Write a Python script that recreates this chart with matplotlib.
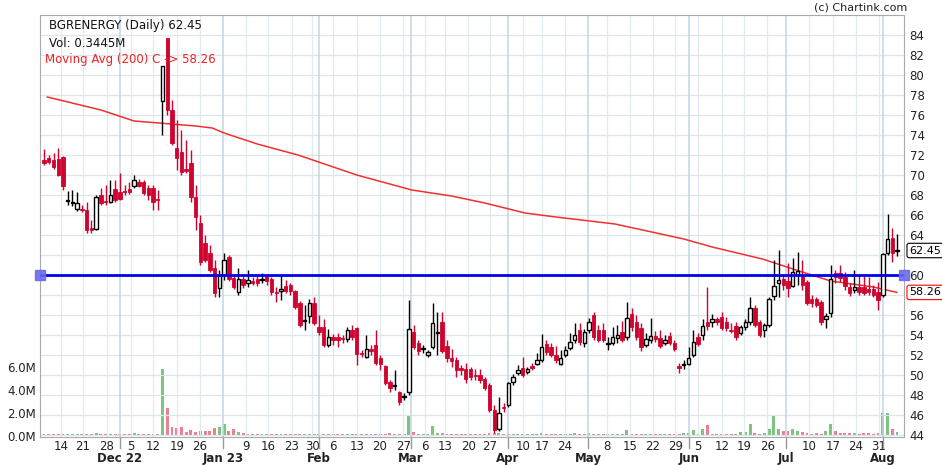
import matplotlib
matplotlib.use("Agg")
import matplotlib.pyplot as plt
import matplotlib.transforms as mtrans
import numpy as np

# OHLC per trading day (sequential)
opens = [71.5,71.7,71.5,71.6,71.8,67.4,67.2,66.6,66.6,66.5,64.7,64.6,68.0,67.4,67.3,68.6,68.3,68.4,68.6,68.9,
         69.3,69.3,68.7,68.7,67.6,77.4,83.7,76.5,72.7,72.3,70.6,71.2,67.8,65.2,63.2,62.2,60.7,58.7,60.0,61.8,
         59.7,58.3,59.6,59.2,59.4,59.6,59.5,59.9,59.6,58.3,58.4,58.9,59.0,58.4,57.2,55.4,55.9,57.2,54.8,54.8,
         53.0,53.8,53.8,53.7,53.6,54.5,54.7,52.2,51.8,52.6,53.0,51.7,50.9,49.3,48.9,48.3,47.8,48.3,54.3,53.2,
         52.6,52.0,52.8,54.2,55.3,52.9,51.7,51.5,50.7,50.6,50.6,50.0,50.0,49.6,49.0,46.5,44.6,46.8,47.0,49.3,
         50.2,50.7,50.3,50.9,51.1,51.5,53.1,52.8,52.0,51.1,52.0,52.7,53.5,54.5,53.2,54.5,56.0,54.5,54.5,53.1,
         53.2,53.7,54.3,53.8,56.1,55.3,54.7,53.0,53.5,53.9,53.7,53.2,53.9,53.2,50.9,51.0,51.1,52.0,53.8,54.0,
         55.3,55.3,55.6,55.8,55.3,54.5,54.9,54.2,54.8,55.3,56.7,55.3,54.5,55.0,57.9,59.2,59.6,59.4,58.9,60.0,
         60.0,59.3,57.6,57.6,57.3,55.6,56.2,60.2,60.2,59.8,58.8,58.5,58.8,58.8,58.6,58.6,58.3,58.0,62.2,63.7,
         62.4]
highs = [72.6,72.0,72.2,72.7,71.9,68.4,68.5,68.3,67.0,67.3,65.5,68.0,68.7,69.0,69.5,69.5,70.2,69.0,69.3,70.0,
         69.6,69.5,69.0,69.0,68.5,80.9,83.7,77.5,75.5,74.5,73.5,72.5,69.0,66.0,64.0,63.0,61.5,60.5,62.2,62.0,
         60.0,60.7,59.9,60.5,59.8,60.1,60.2,60.0,59.8,58.8,60.0,59.5,59.2,58.5,57.4,57.0,57.6,57.8,56.0,55.6,
         54.6,54.1,54.2,54.0,54.8,55.0,54.8,52.5,54.0,53.0,54.5,52.0,51.0,49.5,50.5,48.4,48.2,57.5,55.0,53.5,
         53.0,52.5,57.2,56.3,56.3,53.5,52.6,51.8,51.0,51.2,50.8,50.6,50.6,49.8,49.2,47.0,47.8,47.2,49.3,50.1,
         51.0,51.8,50.8,51.2,52.2,54.1,53.5,53.2,52.9,52.5,52.9,54.2,55.2,55.2,54.6,55.7,56.3,55.0,55.2,53.8,
         54.8,55.0,55.4,57.3,56.7,56.0,55.2,54.2,55.7,54.4,54.5,54.0,54.3,53.5,51.2,51.5,52.8,54.5,54.2,55.6,
         58.8,56.1,55.8,56.3,55.8,55.2,55.3,55.0,55.6,57.8,57.0,55.5,55.2,57.8,61.5,62.5,60.0,61.2,61.7,62.3,
         61.5,59.5,58.0,57.8,57.5,56.2,61.0,60.5,61.0,60.3,59.2,60.5,60.0,60.0,59.8,59.0,59.3,62.2,66.1,64.7,
         64.1]
lows = [71.0,71.1,70.6,69.9,68.5,67.0,66.9,66.4,66.3,64.2,64.2,64.5,67.0,67.0,67.2,67.3,67.5,68.0,68.1,68.7,
        68.8,68.0,67.5,66.5,66.5,74.0,76.0,73.0,70.5,70.0,70.2,67.3,64.5,61.0,61.3,60.3,57.8,57.8,59.5,59.4,
        58.6,58.0,58.7,58.8,59.0,58.9,59.2,59.0,58.0,57.3,57.5,58.2,58.0,56.6,54.8,54.5,55.2,55.0,54.0,52.8,
        52.8,53.0,52.8,53.2,53.3,53.5,51.0,51.8,51.7,52.0,51.0,50.5,49.0,48.3,48.5,47.0,47.5,48.0,52.6,52.0,
        52.2,51.8,52.6,52.0,52.2,51.3,50.8,49.8,50.0,49.2,49.5,49.5,49.2,48.5,46.3,44.2,44.4,46.3,46.8,49.0,
        50.0,49.8,50.1,50.5,51.0,51.3,52.0,51.8,51.2,51.0,51.8,52.5,53.2,53.0,52.8,54.2,53.5,53.3,53.3,52.5,
        53.0,53.2,53.3,53.5,54.4,53.5,52.4,52.8,53.2,53.3,52.7,53.0,53.0,52.4,50.2,50.6,51.0,51.8,52.9,53.5,
        54.5,54.8,55.0,54.5,54.4,54.2,53.5,54.0,54.5,55.0,54.8,53.8,53.8,54.8,57.5,57.8,58.5,57.8,58.8,59.0,
        58.5,57.0,56.8,56.8,55.0,54.7,55.8,59.2,59.3,58.5,57.9,58.2,58.0,58.0,58.0,57.8,56.5,57.8,62.0,61.3,
        61.9]
closes = [71.2,71.3,70.8,70.0,68.9,67.5,67.3,67.2,66.5,64.5,64.5,67.8,67.2,67.3,68.0,67.5,67.6,68.3,68.3,69.5,
          68.9,68.2,68.0,67.3,67.5,80.9,76.5,73.2,71.7,70.3,70.4,67.8,65.8,61.3,61.5,60.5,58.2,60.0,61.5,59.6,
          58.8,59.6,59.0,59.5,59.2,59.2,59.6,59.4,58.3,58.2,58.6,58.4,58.4,56.8,55.0,55.5,57.2,55.2,54.3,53.0,
          53.8,53.5,53.5,53.6,54.5,53.8,52.1,52.1,52.6,52.4,51.2,51.1,49.2,48.7,49.0,47.3,47.9,54.6,52.8,52.4,
          52.6,52.3,55.2,54.3,52.4,51.7,51.4,50.5,50.5,49.6,49.8,49.9,49.5,48.7,46.5,44.5,46.2,46.7,49.2,49.8,
          50.5,50.0,50.6,50.7,51.5,52.8,52.3,52.0,51.5,51.7,52.5,53.3,54.0,53.3,54.3,55.3,53.8,53.5,53.5,53.15,
          53.8,54.0,53.5,55.7,54.8,53.8,52.8,53.6,53.9,53.6,52.9,53.5,53.2,52.6,50.7,51.1,51.7,53.3,53.1,54.9,
          54.9,55.6,55.3,54.7,54.7,54.4,53.8,54.8,55.3,56.7,55.0,54.0,55.0,57.6,58.9,59.5,59.0,58.7,60.3,60.4,
          59.0,57.2,57.2,57.0,55.3,55.9,59.6,59.8,59.7,58.9,58.2,58.8,58.3,58.2,58.3,58.0,57.5,62.1,63.6,62.2,
          62.45]
volumes = [0.12,0.12,0.12,0.12,0.12,0.15,0.10,0.10,0.10,0.12,0.10,0.20,0.12,0.12,0.15,0.12,0.12,0.10,0.10,0.20,
           0.12,0.10,0.10,0.10,0.12,5.80,2.35,0.75,0.65,0.75,0.30,0.50,0.30,0.40,0.40,0.40,0.65,0.75,1.00,0.35,
           0.55,0.30,0.20,0.15,0.15,0.10,0.15,0.12,0.15,0.10,0.15,0.12,0.10,0.15,0.12,0.10,0.10,0.12,0.10,0.12,
           0.10,0.10,0.10,0.10,0.10,0.10,0.12,0.10,0.10,0.10,0.12,0.15,0.10,0.20,0.12,0.15,0.10,1.80,0.30,0.15,
           0.12,0.10,0.85,0.20,0.20,0.15,0.12,0.15,0.12,0.10,0.12,0.12,0.15,0.12,0.20,0.25,0.20,0.12,0.15,0.15,
           0.15,0.10,0.12,0.15,0.12,0.20,0.15,0.12,0.10,0.12,0.15,0.15,0.20,0.15,0.15,0.25,0.15,0.12,0.15,0.10,
           0.12,0.12,0.10,0.45,0.12,0.15,0.12,0.15,0.12,0.15,0.12,0.10,0.15,0.15,0.15,0.20,0.20,0.45,0.15,0.60,
           0.95,0.15,0.12,0.15,0.12,0.15,0.15,0.30,0.30,1.00,0.20,0.15,0.25,0.55,1.80,0.55,0.40,0.40,0.55,0.35,
           0.30,0.20,0.15,0.20,0.15,0.35,1.00,0.35,0.25,0.20,0.20,0.25,0.15,0.20,0.20,0.15,0.20,2.00,1.95,0.55,
           0.34]

ma_idx = [0.7, 12, 19, 32, 35.5, 38, 45, 53.6, 66, 77.6, 86, 93, 101.5, 108, 120.5, 135, 141, 151.6, 160, 166, 175, 180]
ma_val = [77.8, 76.5, 75.4, 74.9, 74.7, 74.2, 73.1, 72.0, 70.0, 68.5, 67.9, 67.2, 66.2, 65.8, 65.1, 63.6, 62.8, 61.6, 60.3, 59.4, 58.8, 58.26]

day_tick_idx = [3.6,8.2,13.3,18.4,23.0,28.1,32.9,42.6,47.3,52.3,56.6,61.0,66.0,70.9,75.8,80.4,84.6,89.5,94.1,
                101.1,105.1,109.9,118.8,123.6,128.5,133.2,138.0,143.1,147.7,152.6,161.4,166.5,171.3,176.2]
day_tick_lab = ["14","21","28","5","12","19","26","9","16","23","30","6","13","20","27","6","13","20","27",
                "10","17","24","8","15","22","29","5","12","19","26","10","17","24","31"]
month_idx = [16.0, 37.8, 58.0, 77.4, 97.9, 114.8, 136.1, 156.6, 177.0]
month_lab = ["Dec 22","Jan 23","Feb","Mar","Apr","May","Jun","Jul","Aug"]

level = 60.0
last_close = 62.45
ma_last = 58.26

RED = "#d0032f"
W, H = 942, 465
fig = plt.figure(figsize=(W/100, H/100), dpi=100)
ax = fig.add_axes([40/W, (H-437)/H, 864/W, 422/H])
n = len(closes)
x = np.arange(n)
ax.set_xlim(-0.85, (904-44)/4.739)
ax.set_ylim(43.8, 86.0)

# grid
for v in range(44, 86, 2):
    ax.axhline(v, color="#dbe6ec", lw=0.9, zorder=0)
for t in day_tick_idx:
    ax.axvline(t, color="#e0eaef", lw=0.9, zorder=0)
for t in month_idx:
    ax.axvline(t, color="#c5d6df", lw=1.1, zorder=0)

# volume
axv = ax.twinx()
axv.set_ylim(-0.13, 36.57)
vcol = ["#7cc47f" if c >= o else "#ec8090" for o, c in zip(opens, closes)]
axv.bar(x, volumes, width=0.62, color=vcol, zorder=1)
axv.set_yticks([0, 2, 4, 6])
axv.set_yticklabels(["0.0M", "2.0M", "4.0M", "6.0M"])
axv.yaxis.tick_left()
axv.tick_params(axis="y", length=0, labelsize=8.5, labelcolor="#222", pad=3)
ax.set_zorder(axv.get_zorder() + 1)
ax.patch.set_visible(False)

# candles
for i in range(n):
    o, h, l, c = opens[i], highs[i], lows[i], closes[i]
    up = c >= o
    col = "black" if up else RED
    ax.vlines(i, l, h, color=col, lw=1.0, zorder=3)
    lo, hi = min(o, c), max(o, c)
    hgt = max(hi - lo, 0.12)
    if up:
        ax.bar(i, hgt, bottom=lo, width=0.72, color="white", edgecolor="black", lw=1.0, zorder=4)
    else:
        ax.bar(i, hgt, bottom=lo, width=0.72, color=RED, edgecolor=RED, lw=0.6, zorder=4)

ax.plot(ma_idx, ma_val, color="#f03030", lw=1.1, zorder=2)
ax.axhline(level, color="#0000ee", lw=2, zorder=5)
ax.plot([ax.get_xlim()[0], ax.get_xlim()[1]], [level, level], ls="none", marker="s", ms=7,
        color="#6a6af0", alpha=0.9, clip_on=False, zorder=6)

# axes styles
for s in ax.spines.values():
    s.set_color("#aaaaaa")
for s in axv.spines.values():
    s.set_visible(False)
ax.yaxis.tick_right()
pt = [v for v in range(44, 86, 2) if v not in (58, 62)]
ax.set_yticks(pt)
ax.set_yticklabels([str(v) for v in pt])
ax.tick_params(axis="y", length=0, labelsize=8.5, labelcolor="#222", pad=4)
ax.set_xticks(day_tick_idx)
ax.set_xticklabels(day_tick_lab)
ax.tick_params(axis="x", length=0, labelsize=8.5, labelcolor="#222", pad=2)
tr = mtrans.blended_transform_factory(ax.transData, ax.transAxes)
for m, lab in zip(month_idx, month_lab):
    ax.text(m, -0.036, lab, transform=tr, ha="center", va="top", fontsize=8.5, fontweight="bold", color="#222")
    ax.plot([m, m], [0, -0.025], transform=tr, color="#999", lw=1, clip_on=False)

try_ = mtrans.blended_transform_factory(ax.transAxes, ax.transData)
ax.text(1.006, last_close, f"{last_close:.2f}", transform=try_, va="center", ha="left", fontsize=8,
        bbox=dict(boxstyle="round,pad=0.2", fc="white", ec="black", lw=0.8))
ax.text(1.006, ma_last, f"{ma_last:.2f}", transform=try_, va="center", ha="left", fontsize=8,
        bbox=dict(boxstyle="round,pad=0.2", fc="white", ec="red", lw=0.8))

fig.text(49/W, 1-26/H, f"BGRENERGY (Daily) {last_close:.2f}", fontsize=8.5, color="#111", va="center")
fig.text(49/W, 1-43/H, "Vol: 0.3445M", fontsize=8.5, color="#111", va="center")
fig.text(45/W, 1-59/H, f"Moving Avg (200) C -> {ma_last:.2f}", fontsize=8.5, color="#ee2222", va="center")
fig.text(907/W, 1-7/H, "(c) Chartink.com", fontsize=8, color="#222", ha="right", va="center")

fig.savefig("out.png", dpi=100)
